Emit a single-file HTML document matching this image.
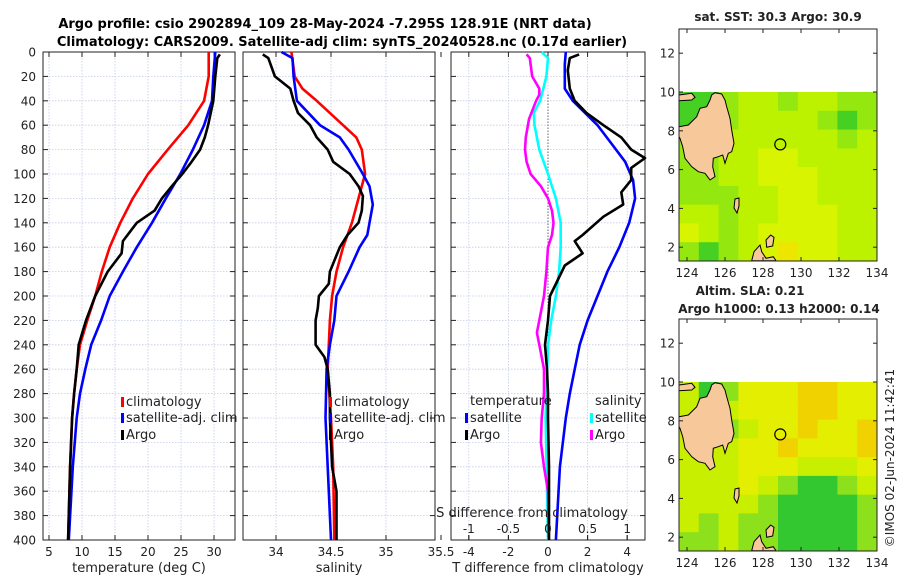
<!DOCTYPE html>
<html><head><meta charset="utf-8"><style>
body{margin:0;background:#fff;}
svg{display:block;font-family:"DejaVu Sans","Liberation Sans",sans-serif;}
</style></head><body>
<svg id="fig" width="900" height="580" viewBox="0 0 900 580" xmlns="http://www.w3.org/2000/svg">
<text x="325" y="28" text-anchor="middle" font-size="13" font-weight="bold">Argo profile: csio 2902894_109 28-May-2024 -7.295S 128.91E (NRT data)</text>
<text x="342" y="46" text-anchor="middle" font-size="13" font-weight="bold">Climatology: CARS2009. Satellite-adj clim: synTS_20240528.nc (0.17d earlier)</text>
<g id="layer"></g>
</svg>
<script>
// ---------- data ----------
const depthTicks = [0,20,40,60,80,100,120,140,160,180,200,220,240,260,280,300,320,340,360,380,400];
const tempTicks = [5,10,15,20,25,30];
const salTicks = [34,34.5,35,35.5];
const tdiffTicks = [-4,-2,0,2,4];
const sdiffTicks = [-1,-0.5,0,0.5,1];
const salTickLabels = ["34","34.5","35","35.5"];
const sdiffTickLabels = ["-1","-0.5","0","0.5","1"];

const tClimDepth = [0,20,40,60,80,100,120,140,160,180,200,220,240,260,280,300,340,400];
const tClimVal   = [29.2,29.2,28.5,26.1,23.0,20.0,17.7,15.8,14.2,13.0,12.0,10.8,9.7,9.2,8.8,8.5,8.2,7.9];
const tSatDepth  = [0,20,40,60,80,100,120,140,160,180,200,220,240,260,280,300,340,400];
const tSatVal    = [30.2,29.9,29.7,28.5,26.8,24.9,22.7,20.6,18.3,16.2,14.2,12.9,11.4,10.5,9.7,9.2,8.6,8.0];
const tArgoDepth = [2,5,20,40,60,70,80,90,100,110,120,130,140,155,165,180,200,220,240,260,280,300,340,400];
const tArgoVal   = [30.9,30.5,30.2,29.9,29.1,28.6,27.9,26.6,25.2,23.6,22.1,21.0,18.3,16.2,16.0,13.9,12.0,10.6,9.5,9.2,8.8,8.5,8.2,7.9];

const sClimDepth = [0,20,30,40,60,70,80,100,120,140,160,180,200,220,240,260,300,340,400];
const sClimVal   = [34.14,34.17,34.24,34.37,34.61,34.73,34.78,34.81,34.75,34.69,34.61,34.55,34.51,34.49,34.48,34.47,34.50,34.52,34.53];
const sSatDepth  = [0,5,20,40,60,70,80,100,110,125,150,160,180,200,220,240,260,300,340,400];
const sSatVal    = [34.05,34.15,34.16,34.19,34.40,34.58,34.66,34.79,34.85,34.88,34.83,34.76,34.66,34.55,34.53,34.49,34.46,34.45,34.47,34.50];
const sArgoDepth = [2,5,15,20,30,40,50,60,70,80,90,100,110,118,130,140,150,160,180,190,200,210,220,240,250,260,280,300,340,360,400];
const sArgoVal   = [33.88,33.93,33.97,33.99,34.13,34.16,34.20,34.31,34.37,34.47,34.52,34.67,34.75,34.79,34.78,34.75,34.65,34.58,34.49,34.48,34.39,34.38,34.36,34.36,34.44,34.47,34.49,34.49,34.51,34.55,34.55];

const dTSatDepth  = [0,10,30,40,60,75,90,105,120,140,160,180,200,220,240,260,280,300,340,400];
const dTSatVal    = [0.9,0.85,0.85,1.25,2.5,3.2,3.9,4.3,4.4,4.1,3.6,3.0,2.5,2.0,1.6,1.35,1.1,0.9,0.6,0.4];
const dTArgoDepth = [2,5,15,30,40,50,60,70,80,87,95,105,115,125,135,150,155,165,175,200,220,240,260,280,300,340,400];
const dTArgoVal   = [1.57,1.1,1.0,1.1,1.35,1.95,2.8,3.7,4.2,4.9,4.2,4.2,3.7,3.8,2.8,1.75,1.35,1.75,0.85,0.1,0.0,-0.15,-0.05,0.0,0.0,0.05,0.05];
const dSSatDepth  = [0,5,20,40,50,60,80,100,120,140,160,180,200,220,240,300,400];
const dSSatVal    = [-0.08,0.0,-0.02,-0.1,-0.18,-0.17,-0.11,0.0,0.1,0.16,0.16,0.14,0.1,0.04,0.0,-0.03,0.0];
const dSArgoDepth = [2,5,20,30,35,40,55,70,80,90,100,110,120,130,140,150,160,180,200,220,230,240,260,280,300,320,340,360,400];
const dSArgoVal   = [-0.27,-0.23,-0.2,-0.11,-0.11,-0.15,-0.24,-0.28,-0.29,-0.27,-0.22,-0.09,0.0,0.05,0.07,0.05,0.0,-0.02,-0.05,-0.11,-0.14,-0.11,-0.05,-0.05,-0.08,-0.09,-0.05,0.0,0.01];

// map colour level grids (rows from lat 10 southwards, columns from lon 123.6 eastwards)
const sstGrid = [
 [0,0,1,2,2,1,2,2,1,1],
 [0,1,1,2,2,2,2,1,0,1],
 [1,1,2,2,2,2,2,2,1,2],
 [1,1,2,2,3,3,2,2,2,2],
 [1,1,2,2,3,3,3,2,2,2],
 [1,1,1,2,2,3,3,2,2,2],
 [2,2,1,2,2,3,3,3,2,2],
 [3,2,1,2,3,3,3,3,2,2],
 [1,0,1,2,3,4,3,3,2,2]];
const slaGrid = [
 [2,0,1,3,3,3,4,4,3,3],
 [2,1,2,3,3,3,4,4,3,3],
 [2,2,1,2,3,3,4,3,3,4],
 [2,2,2,3,3,4,3,3,3,4],
 [2,2,2,3,3,3,2,2,2,3],
 [2,2,2,3,2,1,0,0,1,2],
 [2,2,2,2,1,0,0,0,0,1],
 [2,1,2,1,1,0,0,0,0,1],
 [1,1,2,1,1,0,0,0,0,1]];
const mapLonTicks = [124,126,128,130,132,134];
const mapLatTicks = [2,4,6,8,10,12];
const argoLon = 128.91, argoLat = 7.3;

// ---------- helpers ----------
const NS = "http://www.w3.org/2000/svg";
const layer = document.getElementById('layer');
function mk(tag, attrs, parent){ const e=document.createElementNS(NS,tag); for(const k in attrs) e.setAttribute(k,attrs[k]); (parent||layer).appendChild(e); return e; }
function txt(x,y,s,size,anchor,parent){ const t=mk('text',{x:x,y:y,'font-size':size||12,'text-anchor':anchor||'middle',fill:'#222'},parent); t.textContent=s; return t; }

const Y0=52, Y1=540;
const yD = d => Y0 + d*(Y1-Y0)/400;
const xT = v => 49 + (v-5)*6.6;
const xS = v => 276 + (v-34)*110;
const xDT = v => 548 + v*19.8;
const xDS = v => 548 + v*79.2;

const panels = [
 {x0:43,x1:235,ticks:tempTicks,labels:tempTicks.map(String),sc:xT,xl:'temperature (deg C)',name:'temperature'},
 {x0:243,x1:435,ticks:salTicks,labels:salTickLabels,sc:xS,xl:'salinity',name:'salinity'},
 {x0:451,x1:645,ticks:tdiffTicks,labels:tdiffTicks.map(String),sc:xDT,xl:'T difference from climatology',name:'difference'}
];

panels.forEach((p,pi)=>{
  const g=mk('g',{});
  
  
  depthTicks.forEach(d=>{ if(d>0&&d<400) mk('line',{x1:p.x0,x2:p.x1,y1:yD(d),y2:yD(d),stroke:'#c4cbe8','stroke-width':0.8,'stroke-dasharray':'1.5,1.5'},g); });
  p.ticks.forEach(t=>{ const x=p.sc(t); if(x>p.x0&&x<p.x1) mk('line',{x1:x,x2:x,y1:Y0,y2:Y1,stroke:'#c4cbe8','stroke-width':0.8,'stroke-dasharray':'1.5,1.5'},g); });
  if(pi===2){ sdiffTicks.forEach(t=>{ const x=xDS(t); mk('line',{x1:x,x2:x,y1:Y1,y2:Y1-5,stroke:'#222'},g); }); }
  depthTicks.forEach(d=>{ mk('line',{x1:p.x0,x2:p.x0+5,y1:yD(d),y2:yD(d),stroke:'#222'},g); mk('line',{x1:p.x1,x2:p.x1-5,y1:yD(d),y2:yD(d),stroke:'#222'},g); });
  p.ticks.forEach((t,i)=>{ const x=p.sc(t); mk('line',{x1:x,x2:x,y1:Y0,y2:Y0+5,stroke:'#222'},g); mk('line',{x1:x,x2:x,y1:Y1,y2:Y1-5,stroke:'#222'},g);
    const lt=txt(x,556,p.labels[i],12,'middle',g);
    
     });
  const xlt=txt((p.x0+p.x1)/2,572,p.xl,13,'middle',g);
  
  
  mk('rect',{x:p.x0,y:Y0,width:p.x1-p.x0,height:Y1-Y0,fill:'none',stroke:'#222','stroke-width':1},g);
});
depthTicks.forEach(d=>{ const t=txt(36,yD(d)+4.5,String(d),12,'end');
  
   });

const zl=mk('line',{x1:xDT(0),x2:xDT(0),y1:yD(35),y2:Y1,stroke:'#333','stroke-width':1,'stroke-dasharray':'1,2'});



function series(depths, vals, sc, color, name){
  const pts = depths.map((d,i)=> sc(vals[i]).toFixed(1)+','+yD(d).toFixed(1)).join(' ');
  const l=mk('polyline',{points:pts,fill:'none',stroke:color,'stroke-width':2.6,'stroke-linejoin':'round'});
  
  
}
series(tClimDepth,tClimVal,xT,'#f00','temp-climatology-line');
series(tSatDepth,tSatVal,xT,'#00f','temp-satellite-line');
series(tArgoDepth,tArgoVal,xT,'#000','temp-argo-line');
series(sClimDepth,sClimVal,xS,'#f00','sal-climatology-line');
series(sSatDepth,sSatVal,xS,'#00f','sal-satellite-line');
series(sArgoDepth,sArgoVal,xS,'#000','sal-argo-line');
series(dTSatDepth,dTSatVal,xDT,'#00f','tdiff-satellite-line');
series(dSSatDepth,dSSatVal,xDS,'#0ff','sdiff-satellite-line');
series(dSArgoDepth,dSArgoVal,xDS,'#f0f','sdiff-argo-line');
series(dTArgoDepth,dTArgoVal,xDT,'#000','tdiff-argo-line');

const sdt=txt(532,517,'S difference from climatology',13,'middle');


sdiffTicks.forEach((t,i)=>{ const l=txt(xDS(t),533,sdiffTickLabels[i],12,'middle');
  
   });

function legend(x,y,color,label){
  const g=mk('g',{});
  
  
  mk('rect',{x:x,y:y-9,width:3,height:10,fill:color},g);
  txt(x+5,y,label,13,'start',g);
}
legend(121,406,'#f00','climatology'); legend(121,422,'#00f','satellite-adj. clim'); legend(121,439,'#000','Argo');
legend(329,406,'#f00','climatology'); legend(329,422,'#00f','satellite-adj. clim'); legend(329,439,'#000','Argo');
const tl=txt(470,405,'temperature',13,'start');


legend(465,422,'#00f','satellite'); legend(465,439,'#000','Argo');
const sl=txt(595,405,'salinity',13,'start');


legend(590,422,'#0ff','satellite'); legend(590,439,'#f0f','Argo');

// ---------- maps ----------
const sstColors=['#46d024','#94e810','#bcf200','#d8f400','#ece600','#f2c418'];
const slaColors=['#34c830','#8ce01c','#c8ee00','#e4ee00','#f0d200'];
const landPts="679,126.7 688.3,125 696.7,116.7 700,108.3 706.7,106.7 710,100 711.7,95 715,92.7 721.7,94 725,100 726.7,106.7 730,118.3 731.7,130 734,143.3 731.7,151.7 728.3,153.3 725,163.3 722.7,155 718.3,156.7 713.3,158.3 712.7,166.7 715,176.7 710,180 705,173.3 698.3,171.7 691.7,166.7 685,158.3 682.7,146.7 680,138.3 679,136.7";
const islands=["679,95 691.7,93.3 695,97.3 691.7,100 679,100.7","751.7,260.7 754,251.7 760,245 761.7,251.7 766,258.3 773.3,256.7 776,260.7","766,240 770.7,235 774,237.3 772.7,246 766.7,247.3","735,199 739,198 739,206 737,213 734,208"];
function drawMap(top, bottom, grid, colors, dy, name, titles){
  const g=mk('g',{});
  
  
  const X0=679,X1=877,lat10=92+dy, yBot=bottom;
  const cw=(X1-X0)/grid[0].length, ch=(yBot-lat10)/grid.length;
  grid.forEach((row,r)=>row.forEach((v,c)=>{
    mk('rect',{x:X0+c*cw,y:lat10+r*ch,width:cw+0.5,height:ch+0.5,fill:colors[v]},g);
  }));
  const lg=mk('g',{transform:'translate(0,'+dy+')'},g);
  mk('polygon',{points:landPts,fill:'#f7c89a',stroke:'#000','stroke-width':1},lg);
  islands.forEach(p=>mk('polygon',{points:p,fill:'#f7c89a',stroke:'#000','stroke-width':1},lg));
  const lonX = lon => 687 + (lon-124)*19;
  const latY = lat => lat10 + (10-lat)*19.4;
  const c=mk('circle',{cx:lonX(argoLon),cy:latY(argoLat),r:5.5,fill:'none',stroke:'#000','stroke-width':1.2},g);
  
  
  mk('rect',{x:X0,y:top,width:X1-X0,height:yBot-top,fill:'none',stroke:'#222'},g);
  mapLatTicks.forEach(l=>{ const y=latY(l); mk('line',{x1:X0,x2:X0+4,y1:y,y2:y,stroke:'#222'},g); mk('line',{x1:X1,x2:X1-4,y1:y,y2:y,stroke:'#222'},g);
    txt(X0-4,y+4.5,String(l),12,'end',g); });
  mapLonTicks.forEach(l=>{ const x=lonX(l); mk('line',{x1:x,x2:x,y1:yBot,y2:yBot-4,stroke:'#222'},g); mk('line',{x1:x,x2:x,y1:top,y2:top+4,stroke:'#222'},g);
    txt(x,yBot+16,String(l),12,'middle',g); });
  titles.forEach(s=>{ const t=txt(s[1],s[2],s[0],12,'middle',g); t.setAttribute('font-weight','bold'); });
}
drawMap(29,261,sstGrid,sstColors,0,'sst-map',[['sat. SST: 30.3 Argo: 30.9',778,21]]);
drawMap(319,551,slaGrid,slaColors,290,'sla-map',[['Altim. SLA: 0.21',750,295],['Argo h1000: 0.13 h2000: 0.14',779,313]]);

const cp=txt(0,0,'©IMOS 02-Jun-2024 11:42:41',12,'middle');
cp.setAttribute('transform','translate(894,458) rotate(-90)');


</script>
</body></html>
